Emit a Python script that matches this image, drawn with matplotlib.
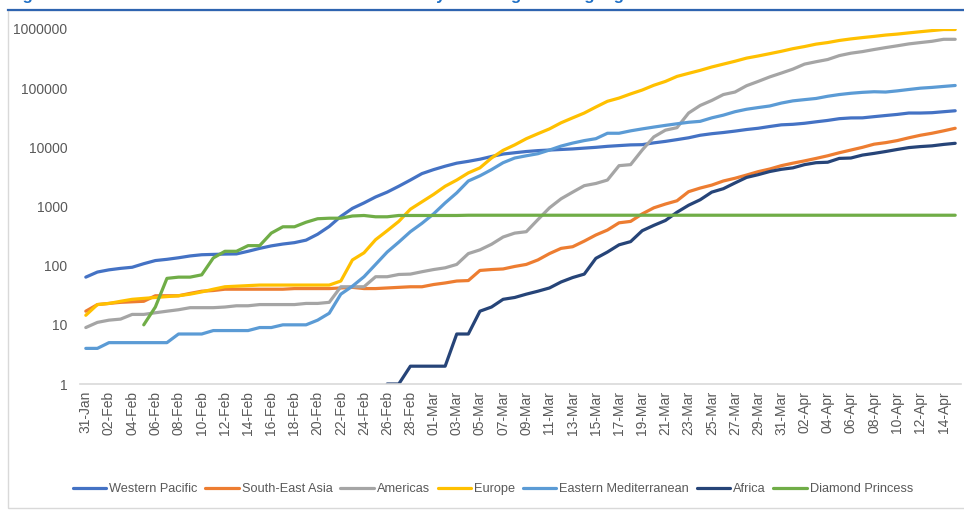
import numpy as np
import pandas as pd
import matplotlib
matplotlib.use("Agg")
import matplotlib.pyplot as plt
from matplotlib.lines import Line2D
from matplotlib.patches import Rectangle

plt.rcParams['font.family'] = ['Liberation Sans', 'DejaVu Sans']

#Dates 31-Jan to 15-Apr 2020
dates = pd.date_range("2020-01-31", "2020-04-15", freq="D")
date_labels = [d.strftime("%d-%b") for d in dates]

nan = np.nan

western_pacific = [64, 78, 85, 90, 94, 108, 122, 128, 136, 146, 153, 155, 157, 158, 175, 196,
                   216, 232, 245, 270, 340, 460, 680, 930, 1150, 1450, 1750, 2200, 2800, 3600,
                   4200, 4800, 5400, 5800, 6300, 7000, 7700, 8100, 8500, 8800, 9000, 9200, 9400,
                   9700, 10000, 10400, 10700, 11000, 11100, 11900, 12600, 13500, 14500, 16000,
                   17000, 17800, 18800, 20000, 21000, 22500, 24000, 24500, 25500, 27000, 28500,
                   30500, 31400, 31500, 33000, 34500, 36000, 38000, 38000, 38500, 40000, 41500]

south_east_asia = [17, 22, 23, 24, 24.5, 25, 31, 31, 31, 34, 37, 38, 40, 40, 40, 40,
                   40, 40, 41, 41, 41, 41, 42, 43, 41, 41, 42, 43, 44, 44,
                   48, 51, 55, 56, 83, 86, 88, 97, 105, 125, 160, 196, 209,
                   260, 330, 400, 530, 560, 750, 950, 1100, 1250, 1780, 2050,
                   2300, 2700, 3000, 3400, 3880, 4300, 4900, 5400, 5900, 6500, 7200,
                   8100, 9000, 10000, 11300, 12000, 13000, 14500, 16000, 17300, 19000, 21000]

americas = [9, 11, 12, 12.5, 15, 15, 16, 17, 18, 19.5, 19.5, 19.5, 20, 21, 21, 22,
            22, 22, 22, 23, 23, 24, 44, 44, 44, 65, 65, 71, 72, 79,
            86, 92, 105, 160, 185, 230, 305, 355, 375, 600, 950, 1350, 1750,
            2250, 2450, 2800, 4900, 5100, 9000, 15000, 19500, 21500, 38000, 51000,
            62000, 78000, 86000, 110000, 130000, 155000, 180000, 210000, 255000, 280000, 305000,
            355000, 390000, 415000, 450000, 485000, 520000, 560000, 590000, 620000, 670000, 670000]

europe = [14.5, 22, 23, 25, 27, 28, 29, 30, 31, 33, 36, 40, 44, 45, 46, 47,
          47, 47, 47, 47, 47, 47, 55, 125, 165, 275, 390, 560, 900, 1200,
          1600, 2200, 2800, 3700, 4500, 6600, 8900, 11000, 14000, 17000, 20500, 26000, 31500,
          38000, 48000, 60000, 68000, 80000, 93000, 112000, 130000, 158000, 178000, 200000,
          228000, 255000, 285000, 322000, 350000, 383000, 420000, 465000, 505000, 555000, 590000,
          640000, 680000, 716000, 750000, 790000, 820000, 860000, 900000, 940000, 980000, 980000]

eastern_med = [4, 4, 5, 5, 5, 5, 5, 5, 7, 7, 7, 8, 8, 8, 8, 9,
               9, 10, 10, 10, 12, 15.7, 33, 45, 65, 105, 170, 250, 375, 520,
               750, 1150, 1700, 2700, 3300, 4200, 5500, 6600, 7200, 7800, 9000, 10500, 11800,
               13000, 14000, 17300, 17300, 19000, 20500, 22000, 23500, 25000, 26500, 27500,
               31500, 35000, 40000, 44000, 47000, 50000, 56000, 61000, 64000, 67000, 73000,
               78000, 82000, 85000, 87000, 86000, 90000, 95000, 100000, 103000, 107000, 111000]

africa = [nan] * 26 + [1, 1, 2, 2,
          2, 2, 7, 7, 17, 20, 27, 29, 33, 37, 42, 53, 63,
          72, 133, 170, 225, 255, 390, 480, 580, 800, 1050, 1300,
          1750, 2000, 2500, 3100, 3450, 3900, 4250, 4500, 5100, 5500, 5600,
          6500, 6600, 7400, 7900, 8500, 9200, 9900, 10300, 10600, 11200, 11700]

diamond_princess = [nan] * 5 + [10, 20, 61, 64, 64, 70, 135, 175, 175, 218, 218,
                    355, 454, 454, 542, 621, 634, 634, 691, 705, 670, 670, 705, 705, 705,
                    705, 705, 705] + [712] * 43

series = [
    ("Western Pacific", western_pacific, "#4472C4"),
    ("South-East Asia", south_east_asia, "#ED7D31"),
    ("Americas", americas, "#A5A5A5"),
    ("Europe", europe, "#FFC000"),
    ("Eastern Mediterranean", eastern_med, "#5B9BD5"),
    ("Africa", africa, "#264478"),
    ("Diamond Princess", diamond_princess, "#70AD47"),
]

fig = plt.figure(figsize=(9.64, 5.12), dpi=100)
ax = fig.add_axes([80 / 964, 1 - 384 / 512, 881 / 964, 355 / 512])

x = np.arange(len(dates))
for name, vals, col in series:
    ax.plot(x, vals, color=col, lw=2.3, label=name, solid_capstyle='round')

ax.set_yscale('log')
ax.set_ylim(1, 1000000)
ax.set_xlim(-0.5, len(dates) - 0.5)
yt = [1, 10, 100, 1000, 10000, 100000, 1000000]
ax.set_yticks(yt)
ax.set_yticklabels([str(v) for v in yt])
ax.yaxis.set_minor_locator(matplotlib.ticker.NullLocator())
ax.set_xticks(x[::2])
ax.set_xticklabels(date_labels[::2], rotation=90)

ax.tick_params(axis='y', length=0, pad=9, labelsize=10, labelcolor='#595959')
ax.tick_params(axis='x', length=0, pad=5, labelsize=10, labelcolor='#595959')
for s in ['top', 'right', 'left']:
    ax.spines[s].set_visible(False)
ax.spines['bottom'].set_color('#D9D9D9')
ax.spines['bottom'].set_linewidth(1.2)

#Legend
fig.legend(loc='center', bbox_to_anchor=(493 / 964, 1 - 489 / 512), ncol=7, frameon=False,
           fontsize=9.2, handlelength=2.6, handletextpad=0.25, columnspacing=0.6,
           labelcolor='#595959')

#Outer frame and the title, cut off at the top as in the source
fig.patches.append(Rectangle((8 / 964, 4 / 512), 1.0, 498 / 512, transform=fig.transFigure,
                             fill=False, edgecolor='#D9D9D9', lw=1))
fig.lines.append(Line2D([8 / 964, 1], [1 - 10 / 512, 1 - 10 / 512], transform=fig.transFigure,
                        color='#2E64B0', lw=1.6))
fig.text(8 / 964, 1.0, "Figure 2: Cumulative confirmed cases outside China by WHO region using log scale",
         color='#1F6FC5', fontsize=12, fontweight='bold', va='baseline')

fig.savefig("out.png", dpi=100)
